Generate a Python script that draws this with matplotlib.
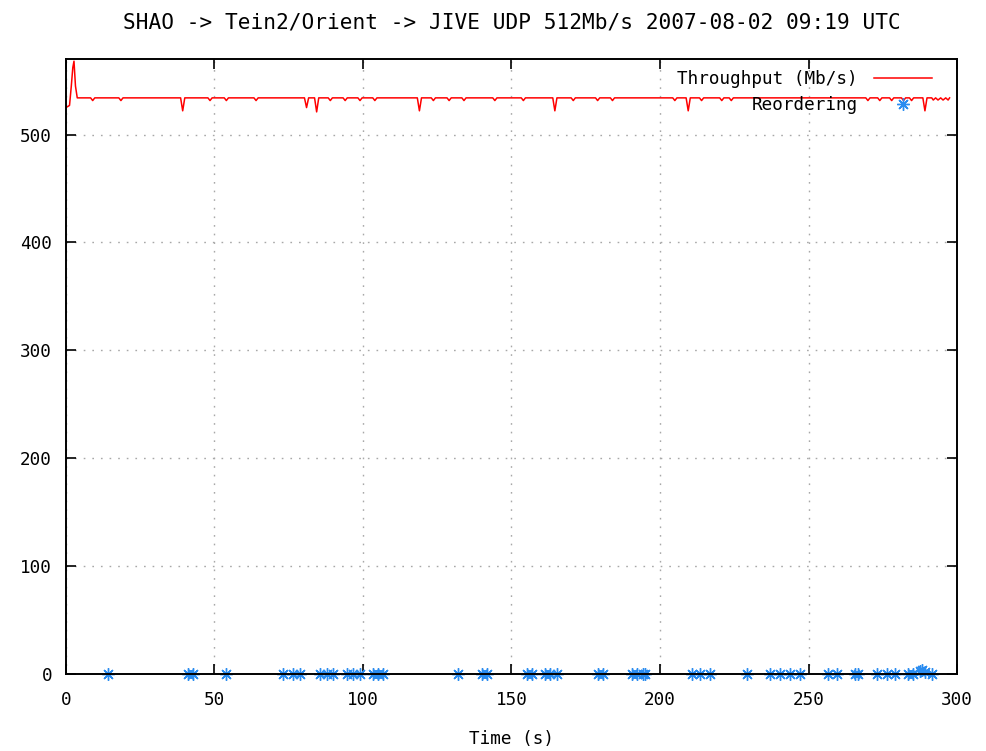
import matplotlib.pyplot as plt

# throughput samples (time in s, rate in Mb/s)
tp_time = [0, 1.2, 1.8, 2.3, 2.7, 3.2, 3.8,
           8.3, 9, 9.7, 17.8, 18.5, 19.2,
           38.6, 39.3, 40.0, 47.8, 48.5, 49.2, 53.3, 54, 54.7, 63.3, 64, 64.7,
           80.3, 81, 81.7, 82.6, 83.7, 84.4, 85.1,
           88.3, 89, 89.7, 93.3, 94, 94.7, 98.3, 99, 99.7, 103.3, 104, 104.7,
           118.3, 119, 119.7, 123, 123.7, 124.4, 128.3, 129, 129.7,
           133.3, 134, 134.7, 143.7, 144.4, 145.1, 153.3, 154, 154.7,
           163.9, 164.6, 165.3, 170.1, 170.8, 171.5, 178.3, 179, 179.7,
           183.3, 184, 184.7, 204.3, 205, 205.7, 208.8, 209.5, 210.2,
           213.3, 214, 214.7, 220.1, 220.8, 221.5, 223.3, 224, 224.7,
           269.3, 270, 270.7, 273.3, 274, 274.7, 277.3, 278, 278.7,
           281.3, 282, 282.7, 284, 284.7, 285.4, 288.5, 289.2, 289.9,
           291.5, 292, 292.8, 293.6, 294.5, 295.3, 296.2, 297, 297.5]
tp_rate = [525, 527, 545, 562, 568, 545, 534,
           534, 531.5, 534, 534, 531.5, 534,
           534, 522, 534, 534, 531.5, 534, 534, 531.5, 534, 534, 531.5, 534,
           534, 525, 534, 534, 534, 521, 534,
           534, 531.5, 534, 534, 531.5, 534, 534, 531.5, 534, 534, 531.5, 534,
           534, 522, 534, 534, 531.5, 534, 534, 531.5, 534,
           534, 531.5, 534, 534, 531.5, 534, 534, 531.5, 534,
           534, 522, 534, 534, 531.5, 534, 534, 531.5, 534,
           534, 531.5, 534, 534, 531.5, 534, 534, 522, 534,
           534, 531.5, 534, 534, 531.5, 534, 534, 531.5, 534,
           534, 531.5, 534, 534, 531.5, 534, 534, 531.5, 534,
           534, 531.5, 534, 534, 531.5, 534, 534, 522, 534,
           534, 532, 534, 532, 534, 532, 534, 532, 534]

# reordering events
reo_time = [14.3, 41.2, 42.9, 54, 73.2, 76.5, 78.8, 85.5, 87.8, 90, 94.5, 96.7,
            99, 103.5, 105.2, 106.8, 132, 140, 141.6, 155.1, 156.8, 161.3, 163,
            165.2, 179.2, 180.9, 190.5, 192.2, 194.4, 195, 210.7, 213.5, 216.8,
            229.2, 237, 240.4, 243.8, 247, 256.7, 259.5, 265.7, 266.8, 273,
            276.3, 279, 283.6, 285.3, 287.5, 288.3, 289.2, 291.5]
reo_count = [0, 0, 0, 0, 0, 0, 0, 0, 0, 0, 0, 0,
             0, 0, 0, 0, 0, 0, 0, 0, 0, 0, 0,
             0, 0, 0, 0, 0, 0, 0, 0, 0, 0,
             0, 0, 0, 0, 0, 0, 0, 0, 0, 0,
             0, 0, 0, 0, 3, 4, 2, 0]

plt.rcParams['font.family'] = 'DejaVu Sans Mono'
plt.rcParams['font.size'] = 12.7

fig = plt.figure(figsize=(9.86, 7.51), dpi=100)
ax = fig.add_axes([0.0669, 0.1025, 0.9037, 0.8189])

ax.plot(tp_time, tp_rate, color='#ff0000', lw=1.1, label='Throughput (Mb/s)')
ax.plot(reo_time, reo_count, ls='none', marker=(8, 2, 0), ms=9, mew=1.0,
        color='#2a8cf0', label='Reordering', clip_on=False)

ax.set_xlim(0, 300)
ax.set_ylim(0, 570)
ax.set_xticks([0, 50, 100, 150, 200, 250, 300])
ax.set_yticks([0, 100, 200, 300, 400, 500])
ax.tick_params(direction='in', length=7, width=1.2, top=True, right=True)
ax.tick_params(axis='y', pad=10)
ax.tick_params(axis='x', pad=12)
ax.grid(True, color='#a8a8a8', ls=(0, (1.2, 5)), lw=1.0)
for s in ax.spines.values():
    s.set_linewidth(1.4)

ax.set_title('SHAO -> Tein2/Orient -> JIVE UDP 512Mb/s 2007-08-02 09:19 UTC', pad=22)
ax.set_xlabel('Time (s)', labelpad=15)

ax.legend(loc='upper right', bbox_to_anchor=(0.972, 0.982), frameon=False,
          markerfirst=False, handlelength=3.3, handletextpad=0.9,
          labelspacing=0.45, borderpad=0, borderaxespad=0)

fig.savefig('out.png', dpi=100)
